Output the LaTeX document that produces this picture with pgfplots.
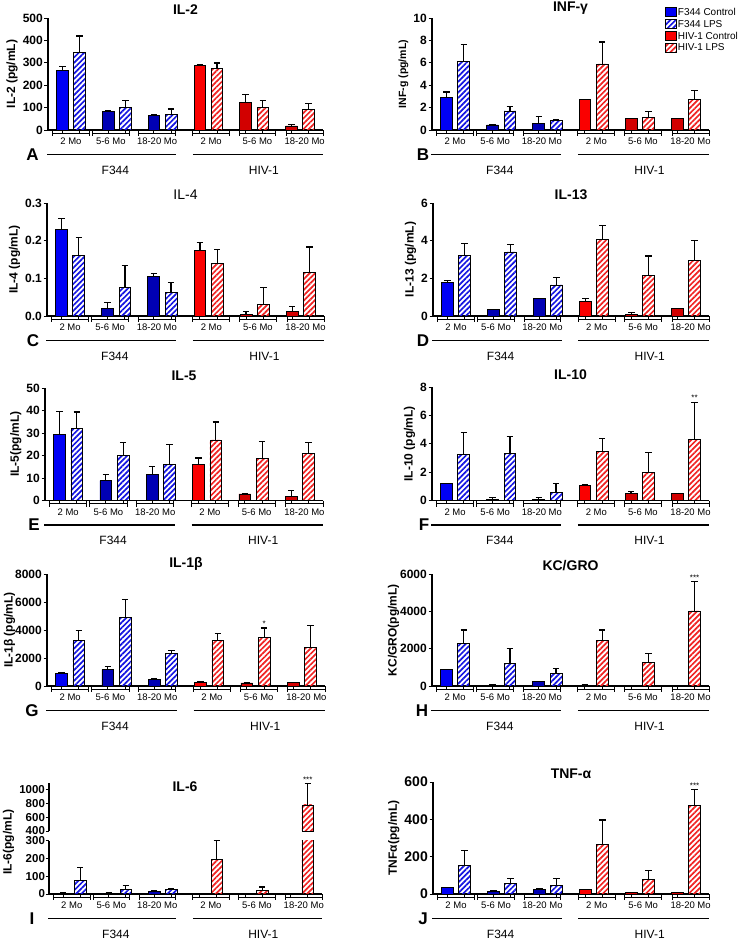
\documentclass[border=0pt]{standalone}
\usepackage{pgfplots}
\pgfplotsset{compat=1.18}
\usepackage{pgfplotstable}
\usepackage{fontspec}
\setmainfont{Liberation Sans}
\usetikzlibrary{patterns.meta}

\definecolor{fblue}{RGB}{0,0,245}
\definecolor{fnavy}{RGB}{0,0,180}
\definecolor{hred}{RGB}{250,0,0}
\definecolor{hdark}{RGB}{210,0,0}
\definecolor{fstripe}{RGB}{20,20,225}
\definecolor{hstripe}{RGB}{240,35,35}

% columns: x, control mean, control SEM, LPS mean, LPS SEM
% rows: F344 2 Mo, 5-6 Mo, 18-20 Mo, HIV-1 2 Mo, 5-6 Mo, 18-20 Mo
\pgfplotstableread{
x ctrl ce lps le
0 265 18 348 72
1 83 5 100 32
2 63 7 70 24
3 288 3 273 26
4 125 33 100 32
5 18 7 93 24
}\tabA
\pgfplotstableread{
x ctrl ce lps le
0 2.95 0.45 6.1 1.5
1 0.45 0 1.7 0.4
2 0.55 0.65 0.85 0.1
3 2.75 0 5.9 1.95
4 1.0 0 1.1 0.55
5 1.0 0 2.7 0.8
}\tabB
\pgfplotstableread{
x ctrl ce lps le
0 0.23 0.028 0.16 0.048
1 0.02 0.015 0.075 0.06
2 0.106 0.006 0.063 0.025
3 0.175 0.02 0.139 0.037
4 0.005 0.007 0.031 0.044
5 0.011 0.015 0.116 0.067
}\tabC
\pgfplotstableread{
x ctrl ce lps le
0 1.8 0.07 3.22 0.64
1 0.33 0 3.4 0.39
2 0.95 0 1.65 0.4
3 0.75 0.16 4.07 0.73
4 0.07 0.12 2.14 1.05
5 0.4 0 2.95 1.07
}\tabD
\pgfplotstableread{
x ctrl ce lps le
0 29.5 10 32.2 7.1
1 8.8 2.6 19.9 5.8
2 11.7 3.4 15.9 8.9
3 16 2.9 26.9 8
4 2.9 0.2 18.5 7.8
5 1.8 2.5 20.9 4.8
}\tabE
\pgfplotstableread{
x ctrl ce lps le
0 1.2 0 3.27 1.53
1 0.09 0.15 3.3 1.2
2 0.09 0.15 0.56 0.64
3 1.1 0 3.43 0.95
4 0.5 0.12 2.0 1.39
5 0.47 0.05 4.33 2.6
}\tabF
\pgfplotstableread{
x ctrl ce lps le
0 890 40 3230 720
1 1175 190 4900 1300
2 480 50 2320 240
3 290 40 3230 530
4 215 25 3500 650
5 240 20 2730 1580
}\tabG
\pgfplotstableread{
x ctrl ce lps le
0 880 0 2280 720
1 40 30 1190 800
2 250 10 665 270
3 40 10 2460 540
4 35 10 1260 500
5 20 0 4020 1560
}\tabH
\pgfplotstableread{
x ctrl ce lps le
0 5 3 77 72
1 4 2 24 26
2 16 3 28 4
3 4 1 197 103
4 2 0 22 17
5 4 1 775 310
}\tabI
\pgfplotstableread{
x ctrl ce lps le
0 36 0 152 82
1 13 3 57 27
2 25 2 46 38
3 23 0 266 130
4 9 0 79 48
5 9 0 475 84
}\tabJ

\pgfplotsset{
  panel/.style={scale only axis, anchor=south west,
    xmin=-0.5, xmax=5.5, ymin=0,
    axis x line=bottom, axis y line=left,
    axis line style={-, line width=1.1pt, black},
    xtick={-0.1875,0.1875,0.8125,1.1875,1.8125,2.1875,2.8125,3.1875,3.8125,4.1875,4.8125,5.1875},
    xticklabels={},
    tick align=outside, major tick length=3.5pt,
    tick style={line width=1pt, black},
    yticklabel style={font=\fontsize{12}{12}\selectfont\bfseries, inner sep=1.5pt},
    scaled y ticks=false,
    /pgf/number format/assume math mode=true,
    /pgf/number format/1000 sep={},
    ylabel style={font=\fontsize{12}{12}\selectfont\bfseries},
    every axis title shift=0pt,
    title style={font=\fontsize{14}{14}\selectfont\bfseries, at={(0.5,1)}, anchor=south, yshift=2pt, inner sep=1pt},
    clip mode=individual},
  ebar/.style={error bars/y dir=plus, error bars/y explicit,
    error bars/error bar style={line width=1.2pt, black},
    error bars/error mark options={rotate=90, black, line width=1.2pt, mark size=3.2pt}},
  solidbar/.style={forget plot, ybar, bar shift=0pt, bar width=0.254,
    fill=#1, draw=black, line width=0.8pt, ebar},
  hatchbar/.style={forget plot, ybar, bar shift=0pt, bar width=0.254,
    draw=black, line width=0.8pt,
    pattern={Lines[angle=45,distance=3.8pt,line width=1.7pt]}, pattern color=#1, ebar},
}

\newcommand{\bars}[1]{%
  \addplot[solidbar=fblue, skip coords between index={1}{6}]
    table[x expr=\thisrow{x}-0.1875, y=ctrl, y error=ce] {#1};
  \addplot[solidbar=fnavy, skip coords between index={0}{1}, skip coords between index={3}{6}]
    table[x expr=\thisrow{x}-0.1875, y=ctrl, y error=ce] {#1};
  \addplot[solidbar=hred, skip coords between index={0}{3}, skip coords between index={4}{6}]
    table[x expr=\thisrow{x}-0.1875, y=ctrl, y error=ce] {#1};
  \addplot[solidbar=hdark, skip coords between index={0}{4}]
    table[x expr=\thisrow{x}-0.1875, y=ctrl, y error=ce] {#1};
  \addplot[hatchbar=fstripe, skip coords between index={3}{6}]
    table[x expr=\thisrow{x}+0.1875, y=lps, y error=le] {#1};
  \addplot[hatchbar=hstripe, skip coords between index={0}{3}]
    table[x expr=\thisrow{x}+0.1875, y=lps, y error=le] {#1};
}

% age brackets, strain lines and labels under a panel: x0, y0, width, letter x, letter
\newcommand{\deco}[5]{%
  \foreach \c/\lab in {0/2 Mo,0.87/5-6 Mo,1.88/18-20 Mo,3.06/2 Mo,4.07/5-6 Mo,5.1/18-20 Mo}{%
    \pgfmathsetmacro\xl{#1+(\c+0.1)*#3/6}%
    \pgfmathsetmacro\xr{#1+(\c+0.9)*#3/6}%
    \pgfmathsetmacro\xm{#1+(\c+0.5)*#3/6}%
    \draw[line width=0.9pt] (\xl,-#2) -- (\xl,-#2-6) (\xr,-#2) -- (\xr,-#2-6)
      (\xl,-#2-3) -- (\xr,-#2-3);
    \node[font=\fontsize{9.5}{10}\selectfont, inner sep=0pt] at (\xm,-#2-11.5) {\lab};
  }
  \draw[line width=1.3pt] (#1-1,-#2-24.5) -- (#1+0.467*#3,-#2-24.5)
    (#1+0.527*#3,-#2-24.5) -- (#1+#3,-#2-24.5);
  \node[font=\fontsize{12}{12}\selectfont] at (#1+0.245*#3,-#2-40) {F344};
  \node[font=\fontsize{12}{12}\selectfont] at (#1+0.785*#3,-#2-40) {HIV-1};
  \node[font=\fontsize{17}{17}\selectfont\bfseries] at (#4,-#2-24.5) {#5};
}

\begin{document}
\begin{tikzpicture}[x=1pt,y=1pt]
\useasboundingbox (0,0) rectangle (751,-943);

% A: IL-2
\begin{axis}[panel, at={(48pt,-130pt)}, width=275pt, height=112pt,
  ymax=500, ytick={0,100,...,500}, title={IL-2}, ylabel={IL-2 (pg/mL)}]
  \bars{\tabA}
\end{axis}

% B: INF-gamma, with legend
\begin{axis}[panel, at={(432pt,-130pt)}, width=277pt, height=112pt,
  ymax=10, ytick={0,2,...,10}, title={INF-γ}, ylabel={INF-g (pg/mL)},
  ylabel style={font=\fontsize{10.5}{11}\selectfont\bfseries},
  legend image code/.code={\draw[#1, line width=0.8pt] (0pt,-4pt) rectangle (11pt,4.5pt);},
  legend cell align=left,
  legend style={at={(0.841,1.1)}, anchor=north west, draw=none, fill=none,
    inner sep=0pt, row sep=1.3pt,
    nodes={inner sep=1pt, font=\fontsize{10}{10}\selectfont}}]
  \addlegendimage{fill=fblue, draw=black}
  \addlegendentry{F344 Control}
  \addlegendimage{draw=black, pattern={Lines[angle=45,distance=3.8pt,line width=1.7pt]}, pattern color=fstripe}
  \addlegendentry{F344 LPS}
  \addlegendimage{fill=hred, draw=black}
  \addlegendentry{HIV-1 Control}
  \addlegendimage{draw=black, pattern={Lines[angle=45,distance=3.8pt,line width=1.7pt]}, pattern color=hstripe}
  \addlegendentry{HIV-1 LPS}
  \bars{\tabB}
\end{axis}

% C: IL-4
\begin{axis}[panel, at={(47pt,-316pt)}, width=277pt, height=113pt,
  ymax=0.3, ytick={0,0.1,0.2,0.3},
  /pgf/number format/fixed, /pgf/number format/fixed zerofill, /pgf/number format/precision=1,
  title={IL-4}, title style={font=\fontsize{14}{14}\selectfont\mdseries},
  ylabel={IL-4 (pg/mL)}]
  \bars{\tabC}
\end{axis}

% D: IL-13
\begin{axis}[panel, at={(433pt,-316pt)}, width=276pt, height=113pt,
  ymax=6, ytick={0,2,4,6}, title={IL-13}, ylabel={IL-13 (pg/mL)}]
  \bars{\tabD}
\end{axis}

% E: IL-5
\begin{axis}[panel, at={(45pt,-500.5pt)}, width=278pt, height=112.5pt,
  ymax=50, ytick={0,10,...,50}, title={IL-5}, ylabel={IL-5(pg/mL)},
  title style={yshift=4pt}]
  \bars{\tabE}
\end{axis}

% F: IL-10
\begin{axis}[panel, at={(432pt,-500.5pt)}, width=277pt, height=113.5pt,
  ymax=8, ytick={0,2,...,8}, title={IL-10}, ylabel={IL-10 (pg/mL)},
  title style={yshift=4pt}]
  \bars{\tabF}
  \node[anchor=south, inner sep=1pt, font=\fontsize{8}{8}\selectfont] at (axis cs:5.1875,6.93) {**};
\end{axis}

% G: IL-1beta
\begin{axis}[panel, at={(47pt,-686pt)}, width=278pt, height=112pt,
  ymax=8000, ytick={0,2000,...,8000}, title={IL-1β}, ylabel={IL-1β (pg/mL)},
  ylabel style={yshift=-5pt}, title style={yshift=0pt}]
  \bars{\tabG}
  \node[anchor=south, inner sep=1pt, font=\fontsize{8}{8}\selectfont] at (axis cs:4.1875,4150) {*};
\end{axis}

% H: KC/GRO
\begin{axis}[panel, at={(432pt,-686pt)}, width=277pt, height=112pt,
  ymax=6000, ytick={0,2000,4000,6000}, title={KC/GRO}, ylabel={KC/GRO(pg/mL)},
  ylabel style={yshift=-4pt}, title style={yshift=0pt}]
  \bars{\tabH}
  \node[anchor=south, inner sep=1pt, font=\fontsize{8}{8}\selectfont] at (axis cs:5.1875,5590) {***};
\end{axis}

% I: IL-6, broken y axis (lower part)
\begin{axis}[panel, at={(49pt,-894pt)}, width=273pt, height=53.3pt,
  ymax=300, ytick={0,100,200,300},
  yticklabel style={font=\fontsize{11.5}{11.5}\selectfont\bfseries, inner sep=0.4pt}]
  \bars{\tabI}
\end{axis}
% I: upper part, only the values above the break
\begin{axis}[panel, at={(49pt,-831pt)}, width=273pt, height=47.9pt,
  ymin=400, ymax=1090, ytick={400,600,800,1000}, axis x line=none,
  yticklabel style={font=\fontsize{11.5}{11.5}\selectfont\bfseries, inner sep=0.4pt},
  every axis plot/.append style={restrict y to domain=400:5000}]
  \bars{\tabI}
  \node[anchor=south, inner sep=1pt, font=\fontsize{8}{8}\selectfont] at (axis cs:5.1875,1085) {***};
\end{axis}
\node[font=\fontsize{14}{14}\selectfont\bfseries] at (185,-787) {IL-6};
\node[rotate=90, font=\fontsize{12}{12}\selectfont\bfseries] at (8.5,-842) {IL-6(pg/mL)};

% J: TNF-alpha
\begin{axis}[panel, at={(433pt,-894pt)}, width=276pt, height=112pt,
  ymax=600, ytick={0,200,400,600}, title={TNF-α}, ylabel={TNFα(pg/mL)},
  yticklabel style={font=\fontsize{14}{14}\selectfont\bfseries}]
  \bars{\tabJ}
  \node[anchor=south, inner sep=1pt, font=\fontsize{8}{8}\selectfont] at (axis cs:5.1875,559) {***};
\end{axis}

\deco{48}{130}{275}{32.5}{A}
\deco{432}{130}{277}{423}{B}
\deco{47}{316}{277}{33}{C}
\deco{433}{316}{276}{423}{D}
\deco{45}{500.5}{278}{34}{E}
\deco{432}{500.5}{277}{424}{F}
\deco{47}{686}{278}{32}{G}
\deco{432}{686}{277}{422}{H}
\deco{49}{894}{273}{32}{I}
\deco{433}{894}{276}{423}{J}
\end{tikzpicture}
\end{document}
